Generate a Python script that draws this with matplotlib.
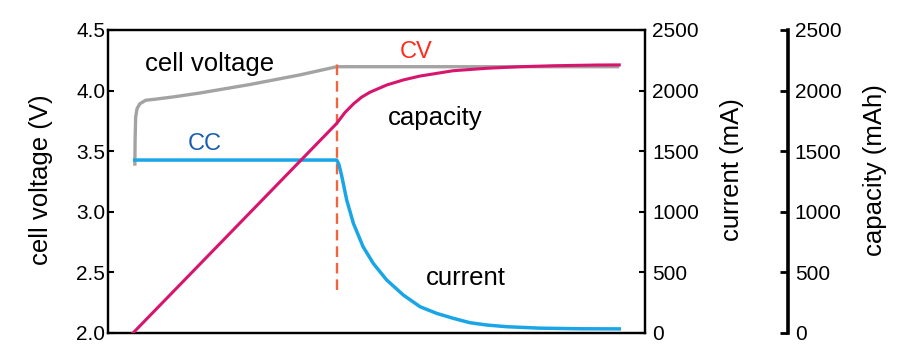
import matplotlib
matplotlib.use("Agg")
import matplotlib.pyplot as plt

plt.rcParams['font.family'] = ['Liberation Sans', 'DejaVu Sans']

# ---- data (time in arbitrary minutes, 0..100) ----
volt_t = [5.0, 5.05, 5.15, 5.4, 5.9, 7.0, 9.0, 12.5, 17.1, 26.4, 35.8, 42.6, 95.2]
volt_v = [3.38, 3.60, 3.78, 3.85, 3.89, 3.92, 3.93, 3.95, 3.98, 4.05, 4.13, 4.197, 4.197]

curr_t = [5.0, 42.6, 43.0, 43.5, 44.45, 45.7, 47.5, 49.4, 51.9, 55.0, 58.1, 61.2, 64.3,
          67.4, 70.5, 74.2, 80.4, 87.9, 95.2]
curr_ma = [1427, 1427, 1390, 1300, 1097, 904, 712, 574, 437, 313, 217, 162, 121,
           85, 66, 52, 40, 35, 34]

cap_t = [4.66, 42.6, 44.1, 45.7, 47.2, 48.8, 51.9, 55.0, 58.1, 64.3, 70.5, 76.7, 82.9, 91.0, 95.2]
cap_mah = [0, 1730, 1818, 1890, 1945, 1987, 2046, 2088, 2120, 2164, 2184, 2197, 2205, 2211, 2212]

cv_time = 42.6
cv_span = [2.355, 4.236]

volt_ticks = [2.0, 2.5, 3.0, 3.5, 4.0, 4.5]
ma_ticks = [0, 500, 1000, 1500, 2000, 2500]

# ---- figure ----
fig = plt.figure(figsize=(9, 3.6), dpi=100)
ax = fig.add_axes([0.12, 0.075, 0.5967, 0.8417])
ax2 = ax.twinx()
ax3 = ax.twinx()

ax.set_xlim(0, 100)
ax.set_ylim(2.0, 4.5)
ax2.set_ylim(0, 2500)
ax3.set_ylim(0, 2500)

ax.plot(volt_t, volt_v, color='#a3a3a3', lw=2.4, solid_capstyle='butt', zorder=3)
ax.plot([cv_time, cv_time], cv_span, color='#f2643c', lw=1.7, dashes=(4.5, 2.5), zorder=4)
ax3.plot(cap_t, cap_mah, color='#d8156c', lw=2.2, zorder=2)
ax2.plot(curr_t, curr_ma, color='#1aa6e6', lw=2.5, zorder=3)

# spines & ticks
for a in (ax, ax2, ax3):
    a.set_xticks([])
for s in ax.spines.values():
    s.set_linewidth(1.6)
for s in ax2.spines.values():
    s.set_linewidth(1.6)
ax.set_yticks(volt_ticks)
ax.set_yticklabels([f"{v:.1f}" for v in volt_ticks])
ax.tick_params(axis='y', direction='in', length=4, width=1.5, pad=2, labelsize=15)

ax2.set_yticks(ma_ticks)
ax2.tick_params(axis='y', direction='in', length=4, width=1.5, pad=5, labelsize=15)

ax3.spines['right'].set_position(('axes', 1.266))
ax3.spines['right'].set_linewidth(2.6)
for k in ('left', 'top', 'bottom'):
    ax3.spines[k].set_visible(False)
ax3.set_yticks(ma_ticks)
ax3.tick_params(axis='y', direction='in', length=6, width=2, pad=5, labelsize=15)

ax.set_ylabel('cell voltage (V)', fontsize=18.5)
ax2.set_ylabel('current (mA)', fontsize=18.5)
ax3.set_ylabel('capacity (mAh)', fontsize=18.5)
ax.yaxis.set_label_coords(-0.1024, 0.505)
ax2.yaxis.set_label_coords(1.1397, 0.538)
ax3.yaxis.set_label_coords(1.406, 0.538)

# annotations
fs = 18.5
ax.text(19.0, 4.158, 'cell voltage', fontsize=fs, ha='center', va='baseline', color='black')
ax.text(57.4, 4.27, 'CV', fontsize=17, ha='center', va='baseline', color='#ff2a1a')
ax.text(18.1, 3.51, 'CC', fontsize=17, ha='center', va='baseline', color='#1a5cb0')
ax.text(61.0, 3.72, 'capacity', fontsize=fs, ha='center', va='baseline', color='black')
ax.text(66.7, 2.396, 'current', fontsize=fs, ha='center', va='baseline', color='black')

fig.savefig('out.png', dpi=100)
